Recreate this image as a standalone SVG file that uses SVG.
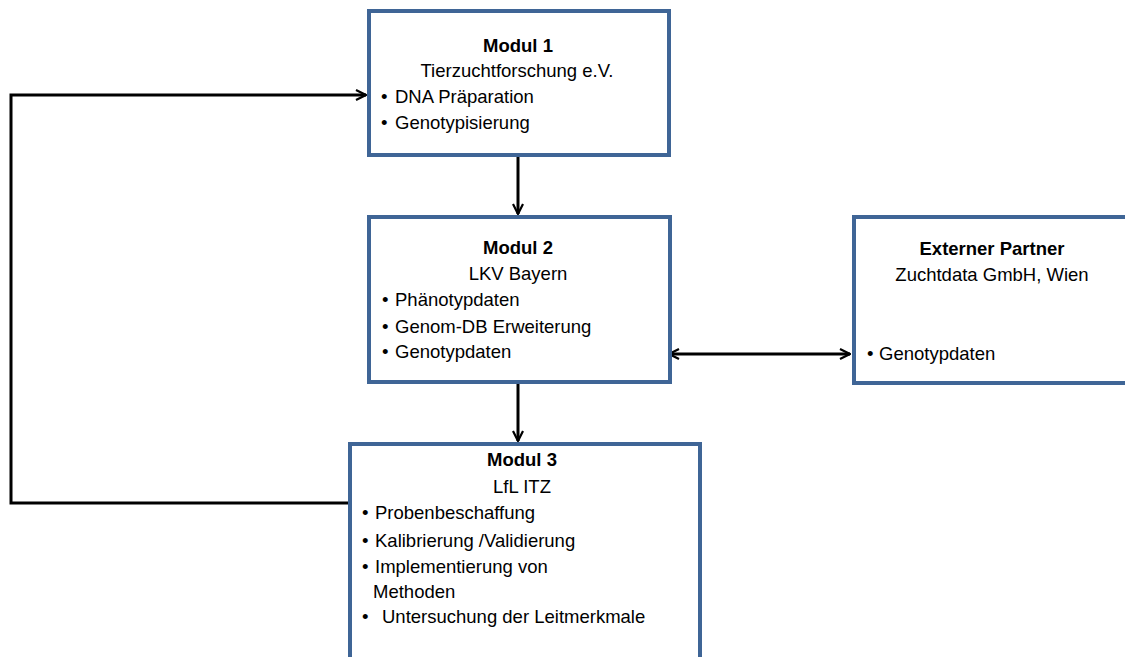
<svg xmlns="http://www.w3.org/2000/svg" width="1125" height="657" viewBox="0 0 1125 657">
<style>
.box{fill:#fff;stroke:#3F6596;stroke-width:4}
.t{font-family:"Liberation Sans",Arial,sans-serif;font-size:18.5px;fill:#000}
.b{font-weight:bold}
.m{text-anchor:middle}
.c{fill:none;stroke:#000;stroke-width:3}
</style>
<defs>
<marker id="ah" viewBox="0 0 12 12" refX="11" refY="6" markerWidth="12" markerHeight="12" markerUnits="userSpaceOnUse" orient="auto-start-reverse">
<path d="M1,1 L11,6 L1,11" fill="none" stroke="#000" stroke-width="2.2"/>
</marker>
</defs>
<rect width="1125" height="657" fill="#fff"/>
<g id="connectors">
<line class="c" x1="518" y1="156" x2="518" y2="214" marker-end="url(#ah)"/>
<line class="c" x1="518" y1="383" x2="518" y2="441" marker-end="url(#ah)"/>
<line class="c" x1="669" y1="354" x2="850" y2="354" marker-start="url(#ah)" marker-end="url(#ah)"/>
<polyline class="c" points="348,503 11,503 11,95 366,95" marker-end="url(#ah)"/>
</g>
<g id="modul1">
<rect class="box" x="369" y="11" width="300" height="144"/>
<text class="t b m" x="518" y="52">Modul 1</text>
<text class="t m" x="517" y="77">Tierzuchtforschung e.V.</text>
<text class="t" x="381" y="103">•</text><text class="t" x="395" y="103">DNA Präparation</text>
<text class="t" x="381" y="129">•</text><text class="t" x="395" y="129">Genotypisierung</text>
</g>
<g id="modul2">
<rect class="box" x="369" y="217" width="301" height="165"/>
<text class="t b m" x="518" y="254">Modul 2</text>
<text class="t m" x="518" y="280">LKV Bayern</text>
<text class="t" x="382" y="306">•</text><text class="t" x="395" y="306">Phänotypdaten</text>
<text class="t" x="382" y="333">•</text><text class="t" x="395" y="333">Genom-DB Erweiterung</text>
<text class="t" x="382" y="358">•</text><text class="t" x="395" y="358">Genotypdaten</text>
</g>
<g id="modul3">
<rect class="box" x="350" y="444" width="350" height="230"/>
<text class="t b m" x="522" y="466">Modul 3</text>
<text class="t m" x="522" y="493">LfL ITZ</text>
<text class="t" x="362" y="519">•</text><text class="t" x="375" y="519">Probenbeschaffung</text>
<text class="t" x="362" y="547">•</text><text class="t" x="375" y="547">Kalibrierung /Validierung</text>
<text class="t" x="362" y="573">•</text><text class="t" x="375" y="573">Implementierung von</text>
<text class="t" x="373" y="598">Methoden</text>
<text class="t" x="362" y="623">•</text><text class="t" x="382" y="623">Untersuchung der Leitmerkmale</text>
</g>
<g id="extern">
<rect class="box" x="854" y="217" width="290" height="166"/>
<text class="t b m" x="992" y="255">Externer Partner</text>
<text class="t m" x="992" y="281">Zuchtdata GmbH, Wien</text>
<text class="t" x="867" y="360">•</text><text class="t" x="879" y="360">Genotypdaten</text>
</g>
</svg>
